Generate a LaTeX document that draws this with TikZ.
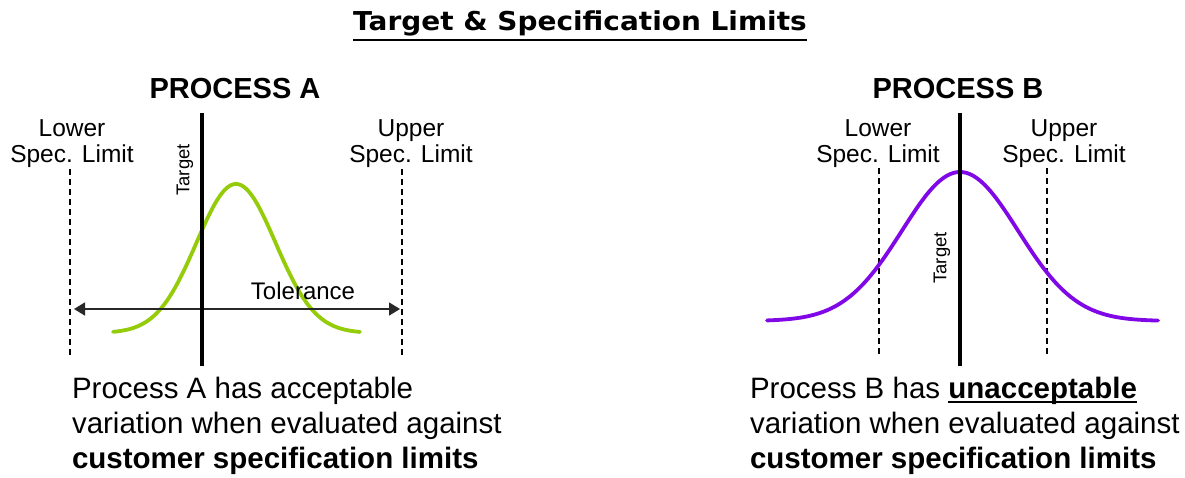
\documentclass[tikz,border=0pt]{standalone}
\usepackage{fontspec}
\setmainfont{Liberation Sans}
\newfontfamily\titlefont{DejaVu Sans}
\usetikzlibrary{arrows.meta,calc}

\definecolor{curveA}{RGB}{148,204,10}
\definecolor{curveB}{RGB}{128,8,230}
\definecolor{arrowgrey}{RGB}{40,40,40}

% word with a rule drawn just under its baseline
\newcommand{\ulword}[1]{\setbox0\hbox{#1}\rlap{\rule[-4.5pt]{\wd0}{2pt}}\box0}

\tikzset{
  every node/.style={inner sep=0pt, outer sep=0pt},
  targetline/.style={line width=4pt, black},
  speclimit/.style={line width=1.1pt, black, dash pattern=on 6pt off 4pt},
  bellA/.style={line width=3.8pt, curveA, line join=round, line cap=round},
  bellB/.style={line width=3.8pt, curveB, line join=round, line cap=round},
  heading/.style={font=\fontsize{29}{34}\selectfont\bfseries},
  limitlabel/.style={font=\fontsize{24.5}{25.5}\selectfont, align=center, anchor=north},
  targetlabel/.style={font=\fontsize{18.5}{20}\selectfont, rotate=90},
  verdict/.style={font=\fontsize{29.5}{35}\selectfont, align=left, anchor=north west},
  tolarrow/.style={line width=1.6pt, arrowgrey, {Triangle[length=11pt,width=13pt]}-{Triangle[length=11pt,width=13pt]}}
}

\begin{document}
\begin{tikzpicture}[x=1pt, y=-1pt]
  \useasboundingbox (0,0) rectangle (1185,477);

  % title
  \node[anchor=base, font=\titlefont\fontsize{26}{30}\selectfont\bfseries] (title) at (580,30) {\scalebox{1.075}[1]{Target \& Specification Limits}};
  \draw[line width=2pt] ($(title.base west)+(0,10)$) -- ($(title.base east)+(0,10)$);

  % ---------- Process A ----------
  \node[heading, anchor=base] (headA) at (235,98) {PROCESS A};

  \coordinate (lslA top) at (70,169);  \coordinate (lslA bot) at (70,356);
  \coordinate (uslA top) at (402,169); \coordinate (uslA bot) at (402,356);
  \coordinate (tgtA top) at (202,113); \coordinate (tgtA bot) at (202,366);

  \draw[speclimit] (lslA top) -- (lslA bot);
  \draw[speclimit] (uslA top) -- (uslA bot);

  \node[limitlabel] (lslA label) at (72,120) {Lower\\Spec. Limit};
  \node[limitlabel] (uslA label) at (411,120) {Upper\\Spec. Limit};

  \draw[bellA] plot[domain=113:360, samples=120, smooth]
    (\x, {333-149*exp(-(((\x-236)/39.5)^2)/2)});

  \coordinate (tolL) at (74,309);
  \coordinate (tolR) at (400,309);
  \draw[tolarrow] (tolL) -- (tolR);
  \node[anchor=base, font=\fontsize{24}{26}\selectfont] (tol) at (303,299) {Tolerance};

  \draw[targetline] (tgtA top) -- (tgtA bot);
  \node[targetlabel] (tgtA label) at (185,170) {Target};

  \node[verdict] (textA) at (72,377) {Process A has acceptable\\variation when evaluated against\\\textbf{customer specification limits}};

  % ---------- Process B ----------
  \node[heading, anchor=base] (headB) at (958,98) {PROCESS B};

  \coordinate (lslB top) at (879,168);  \coordinate (lslB bot) at (879,354);
  \coordinate (uslB top) at (1047,168); \coordinate (uslB bot) at (1047,354);
  \coordinate (tgtB top) at (960,113);  \coordinate (tgtB bot) at (960,366);

  \draw[speclimit] (lslB top) -- (lslB bot);
  \draw[speclimit] (uslB top) -- (uslB bot);

  \node[limitlabel] (lslB label) at (878,120) {Lower\\Spec. Limit};
  \node[limitlabel] (uslB label) at (1064,120) {Upper\\Spec. Limit};

  \draw[bellB] plot[domain=767:1158, samples=150, smooth]
    (\x, {321-149*exp(-(((\x-960)/58)^2)/2)});

  \draw[targetline] (tgtB top) -- (tgtB bot);
  \node[targetlabel] (tgtB label) at (942,258) {Target};

  \node[verdict] (textB) at (750,377) {Process B has \ulword{\textbf{unacceptable}}\\variation when evaluated against\\\textbf{customer specification limits}};
\end{tikzpicture}
\end{document}
